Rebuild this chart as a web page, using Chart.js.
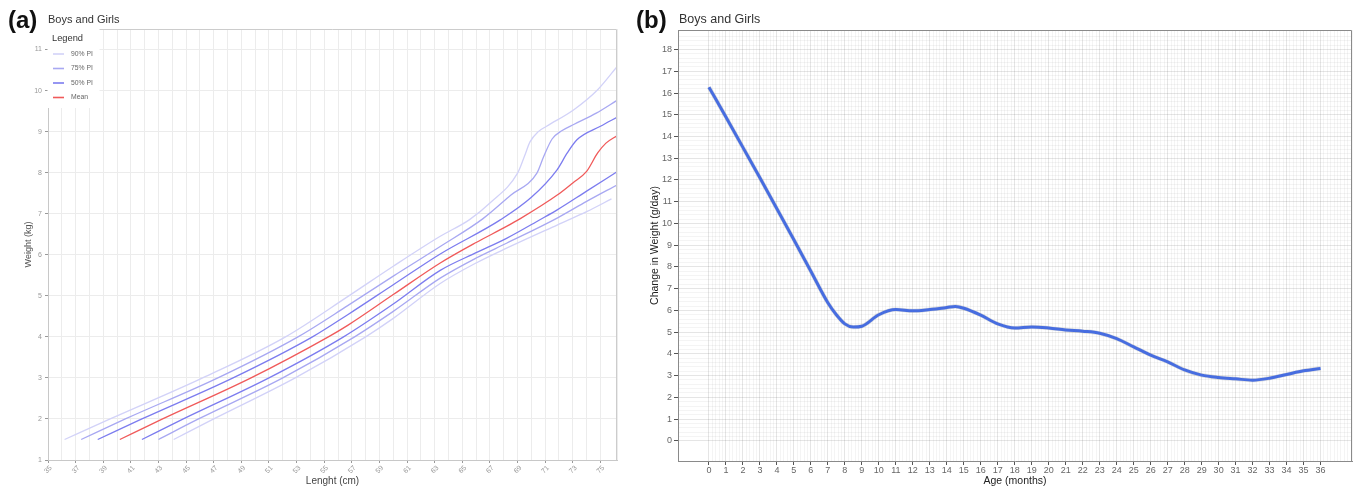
<!DOCTYPE html>
<html>
<head>
<meta charset="utf-8">
<title>Boys and Girls</title>
<script src="https://cdn.jsdelivr.net/npm/chart.js"></script>
<style>
  html, body { margin: 0; padding: 0; background: #fff; }
  body { width: 1358px; height: 491px; position: relative; overflow: hidden; }
  #wrapA { position: absolute; left: 0; top: 0; width: 630px; height: 491px; }
  #wrapB { position: absolute; left: 630px; top: 0; width: 728px; height: 491px; }
</style>
</head>
<body>
<div id="wrapA"><canvas id="chartA"></canvas></div>
<div id="wrapB"><canvas id="chartB"></canvas></div>
<script>
// panel (a): weight-for-length curves, each point is [length cm, weight kg]
const pi90Upper = [[36.2,1.5],[39.5,2.0],[46.2,3.0],[52.2,4.0],[56.7,4.98],[60.0,5.72],[63.4,6.45],[65.5,6.85],[67.0,7.26],[69.0,7.99],[69.5,8.4],[69.9,8.75],[70.5,9.0],[71.1,9.13],[73.1,9.54],[74.8,10.02],[76.2,10.58]];
const pi75Upper = [[37.4,1.5],[40.6,2.0],[47.3,3.0],[53.1,4.0],[56.7,4.76],[60.0,5.48],[63.4,6.2],[66.5,6.88],[68.5,7.45],[70.4,7.99],[70.9,8.4],[71.5,8.82],[72.2,9.02],[73.1,9.18],[74.7,9.45],[76.2,9.76]];
const pi50Upper = [[38.6,1.5],[41.8,2.0],[48.4,3.0],[54.15,4.0],[56.7,4.54],[60.0,5.27],[63.4,6.02],[67.75,6.85],[70.0,7.4],[71.86,8.07],[72.6,8.48],[73.3,8.8],[75.0,9.13],[76.2,9.35]];
const meanCurve = [[40.2,1.5],[43.3,2.0],[49.7,3.0],[55.3,4.0],[56.7,4.28],[60.0,5.03],[63.4,5.8],[66.0,6.3],[68.2,6.69],[69.2,6.88],[71.9,7.46],[73.0,7.75],[74.0,8.03],[74.8,8.48],[75.4,8.72],[76.2,8.9]];
const pi50Lower = [[41.8,1.5],[44.8,2.0],[51.0,3.0],[56.4,4.0],[60.0,4.8],[63.4,5.62],[66.0,6.05],[68.2,6.4],[70.65,6.86],[71.9,7.1],[74.0,7.55],[76.2,8.02]];
const pi75Lower = [[43.0,1.5],[45.9,2.0],[52.0,3.0],[57.2,4.0],[60.0,4.62],[63.4,5.43],[66.0,5.92],[68.2,6.28],[71.9,6.9],[74.0,7.3],[76.2,7.7]];
const pi90Lower = [[44.1,1.5],[47.0,2.0],[52.9,3.0],[58.0,4.0],[60.0,4.45],[63.4,5.3],[66.0,5.8],[68.2,6.16],[71.9,6.73],[74.0,7.05],[75.8,7.36]];
const lengthTicks = [35,37,39,41,43,45,47,49,51,53,55,57,59,61,63,65,67,69,71,73,75];
const weightTicks = [1,2,3,4,5,6,7,8,9,10,11];
const legendLabels = ['90% PI', '75% PI', '50% PI', 'Mean'];

// panel (b): smoothed change in weight
const ageMonths = [0,1,2,3,4,5,6,7,7.5,8,8.5,9,10,11,12,13,14,14.5,15,16,17,18,19,20,21,22,23,24,25,26,27,28,29,30,31,32,33,34,35,36];
const weightChange = [16.27,14.9,13.5,12.1,10.68,9.25,7.8,6.35,5.8,5.38,5.23,5.27,5.8,6.04,5.98,6.04,6.13,6.18,6.1,5.78,5.38,5.19,5.24,5.19,5.1,5.04,4.95,4.7,4.32,3.94,3.63,3.26,3.02,2.91,2.85,2.79,2.88,3.05,3.22,3.33];
const ageTicks = [0,1,2,3,4,5,6,7,8,9,10,11,12,13,14,15,16,17,18,19,20,21,22,23,24,25,26,27,28,29,30,31,32,33,34,35,36];
const changeTicks = [0,1,2,3,4,5,6,7,8,9,10,11,12,13,14,15,16,17,18];

const FONT = '"Liberation Sans", Arial, sans-serif';
Chart.defaults.font.family = FONT;

const col90 = '#d2d2f8', col75 = '#a8a8f2', col50 = '#7c7cef', colMean = '#f05a5a';
const isTick = (list, v) => list.some(t => Math.abs(t - v) < 1e-6);
const toXY = arr => arr.map(p => ({x: p[0], y: p[1]}));

function curve(pts, color) {
  return { data: toXY(pts), borderColor: color, borderWidth: 1.3, pointRadius: 0, fill: false, cubicInterpolationMode: 'monotone' };
}

const panelA = {
  id: 'panelA',
  afterDraw(chart) {
    const {ctx, chartArea: a} = chart;
    ctx.save();
    ctx.strokeStyle = '#cccccc';
    ctx.lineWidth = 1;
    ctx.beginPath();
    ctx.moveTo(a.left, a.top + 0.5);
    ctx.lineTo(a.right - 0.5, a.top + 0.5);
    ctx.lineTo(a.right - 0.5, a.bottom);
    ctx.stroke();
    // legend box sits over the top-left corner of the panel
    ctx.fillStyle = '#fff';
    ctx.fillRect(a.left - 0.5, a.top - 3, 52, 82);
    ctx.fillStyle = '#333';
    ctx.font = '9.3px ' + FONT;
    ctx.textBaseline = 'middle';
    ctx.fillText('Legend', 52, 38);
    const cols = [col90, col75, col50, colMean];
    const ys = [54, 68.5, 83, 97.5];
    ctx.font = '6.8px ' + FONT;
    legendLabels.forEach((lab, i) => {
      ctx.strokeStyle = cols[i];
      ctx.lineWidth = 1.6;
      ctx.beginPath(); ctx.moveTo(53, ys[i]); ctx.lineTo(64, ys[i]); ctx.stroke();
      ctx.fillStyle = '#666';
      ctx.fillText(lab, 71, ys[i]);
    });
    ctx.textBaseline = 'alphabetic';
    ctx.fillStyle = '#111';
    ctx.font = 'bold 24px ' + FONT;
    ctx.fillText('(a)', 8, 28);
    ctx.fillStyle = '#333';
    ctx.font = '11px ' + FONT;
    ctx.fillText('Boys and Girls', 48, 22.5);
    ctx.restore();
  }
};

new Chart(document.getElementById('chartA'), {
  type: 'line',
  data: {
    datasets: [
      curve(pi90Upper, col90), curve(pi90Lower, col90),
      curve(pi75Upper, col75), curve(pi75Lower, col75),
      curve(pi50Upper, col50), curve(pi50Lower, col50),
      curve(meanCurve, colMean)
    ]
  },
  options: {
    responsive: true,
    maintainAspectRatio: false,
    animation: false,
    layout: { padding: { left: 20, right: 13, top: 29, bottom: 0 } },
    plugins: { legend: { display: false }, tooltip: { enabled: false } },
    scales: {
      x: {
        type: 'linear', min: 35, max: 76.2,
        afterFit: s => { s.height = 31; },
        ticks: {
          stepSize: 1, autoSkip: false, minRotation: 45, maxRotation: 45, labelOffset: 3, padding: 1,
          color: '#999', font: { size: 7 },
          callback: v => isTick(lengthTicks, v) ? String(v) : ''
        },
        grid: {
          color: '#ececec', tickLength: 3,
          tickColor: c => (c.tick && isTick(lengthTicks, c.tick.value)) ? '#999' : 'rgba(0,0,0,0)'
        },
        border: { color: '#c8c8c8' },
        title: { display: true, text: 'Lenght (cm)', color: '#444', font: { size: 10 }, padding: { top: 0, bottom: 4 } }
      },
      y: {
        type: 'linear', min: 1, max: 11.5,
        afterFit: s => { s.width = 28; },
        ticks: {
          stepSize: 1, autoSkip: false, padding: 3, color: '#999', font: { size: 7 },
          callback: v => isTick(weightTicks, v) ? String(v) : ''
        },
        grid: {
          color: c => (c.tick && isTick(weightTicks, c.tick.value)) ? '#ececec' : 'rgba(0,0,0,0)',
          tickLength: 3,
          tickColor: c => (c.tick && isTick(weightTicks, c.tick.value)) ? '#999' : 'rgba(0,0,0,0)'
        },
        border: { color: '#c8c8c8' },
        title: { display: true, text: 'Weight (kg)', color: '#555', font: { size: 9 }, padding: { top: 3.6, bottom: 0 } }
      }
    }
  },
  plugins: [panelA]
});

// ---- panel (b)
const panelB = {
  id: 'panelB',
  afterDraw(chart) {
    const {ctx, chartArea: a} = chart;
    ctx.save();
    ctx.strokeStyle = '#8a8a8a';
    ctx.lineWidth = 1;
    ctx.beginPath();
    ctx.moveTo(a.left, a.top + 0.5);
    ctx.lineTo(a.right - 0.5, a.top + 0.5);
    ctx.lineTo(a.right - 0.5, a.bottom);
    ctx.stroke();
    ctx.fillStyle = '#111';
    ctx.font = 'bold 24px ' + FONT;
    ctx.fillText('(b)', 6, 28);
    ctx.fillStyle = '#333';
    ctx.font = '12.5px ' + FONT;
    ctx.fillText('Boys and Girls', 49, 23);
    ctx.restore();
  }
};

// major lines at whole values, fine minor mesh every 0.2, nothing below zero
const minorGrid = (list) => c => {
  if (!c.tick) return 'rgba(0,0,0,0)';
  const v = c.tick.value;
  if (v < -1e-6) return 'rgba(0,0,0,0)';
  return isTick(list, v) ? 'rgba(0,0,0,0.1)' : 'rgba(0,0,0,0.045)';
};

const changePts = ageMonths.map((m, i) => ({x: m, y: weightChange[i]}));

new Chart(document.getElementById('chartB'), {
  type: 'line',
  data: {
    datasets: [
      { data: changePts, borderColor: 'rgba(130,130,130,0.25)', borderWidth: 4.2, pointRadius: 0, cubicInterpolationMode: 'monotone' },
      { data: changePts, borderColor: '#3366ff', borderWidth: 3, pointRadius: 0, cubicInterpolationMode: 'monotone' }
    ]
  },
  options: {
    responsive: true,
    maintainAspectRatio: false,
    animation: false,
    layout: { padding: { left: 12, right: 6, top: 30, bottom: 0 } },
    plugins: { legend: { display: false }, tooltip: { enabled: false } },
    scales: {
      x: {
        type: 'linear', min: -1.82, max: 37.85,
        afterFit: s => { s.height = 30; },
        ticks: {
          stepSize: 0.2, autoSkip: false, minRotation: 0, maxRotation: 0, padding: 0,
          color: '#666', font: { size: 9 },
          callback: v => isTick(ageTicks, v) ? String(Math.round(v)) : ''
        },
        grid: {
          color: minorGrid(ageTicks), tickLength: 4,
          tickColor: c => (c.tick && isTick(ageTicks, c.tick.value)) ? '#555' : 'rgba(0,0,0,0)'
        },
        border: { color: '#8a8a8a' },
        title: { display: true, text: 'Age (months)', color: '#222', font: { size: 10.5 }, padding: { top: 0, bottom: 3.7 } }
      },
      y: {
        type: 'linear', min: -0.93, max: 18.9,
        afterFit: s => { s.width = 36; },
        ticks: {
          stepSize: 0.2, autoSkip: false, padding: 2, color: '#666', font: { size: 9 },
          callback: v => isTick(changeTicks, v) ? String(Math.round(v)) : ''
        },
        grid: {
          color: minorGrid(changeTicks), tickLength: 4,
          tickColor: c => (c.tick && isTick(changeTicks, c.tick.value)) ? '#555' : 'rgba(0,0,0,0)'
        },
        border: { color: '#8a8a8a' },
        title: { display: true, text: 'Change in Weight (g/day)', color: '#222', font: { size: 10.5 }, padding: { top: 6.7, bottom: 0 } }
      }
    }
  },
  plugins: [panelB]
});
</script>
</body>
</html>
